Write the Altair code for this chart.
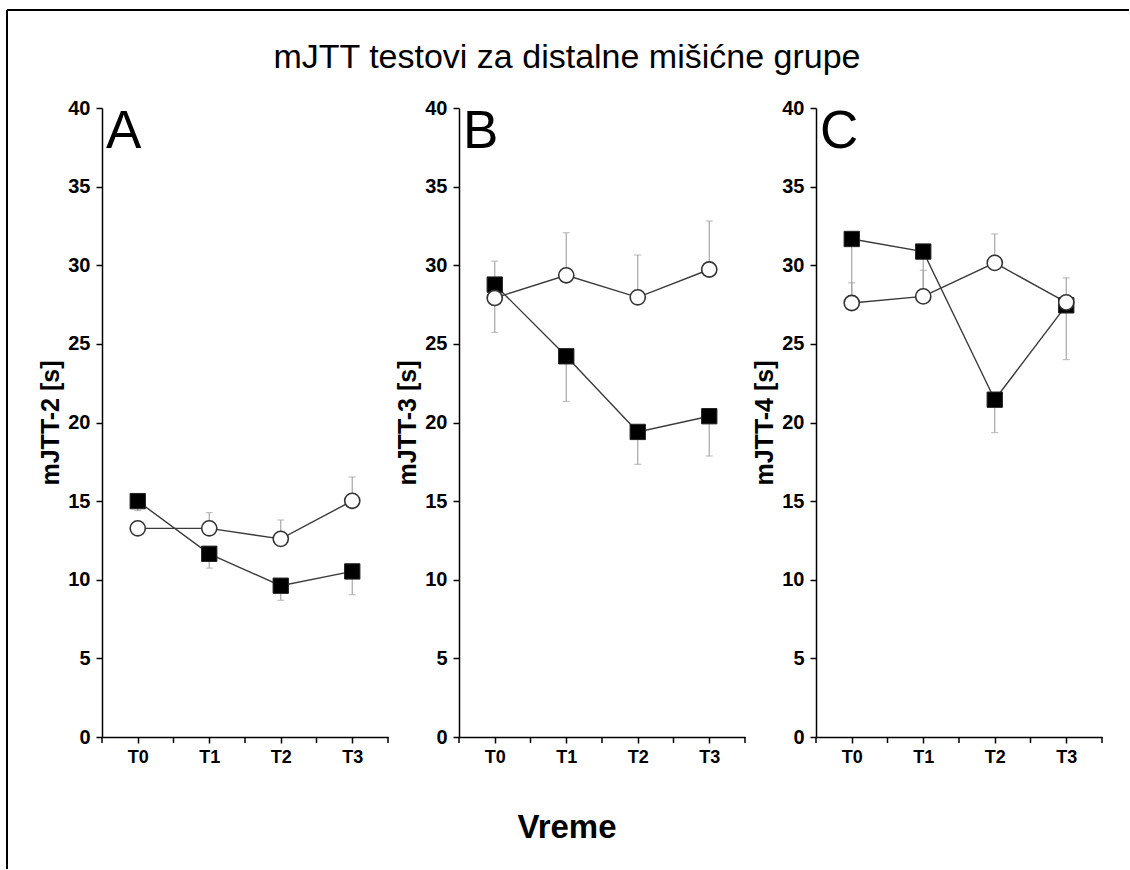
import altair as alt
import pandas as pd

# ---------------- data ----------------
times = ["T0", "T1", "T2", "T3"]
t_pos = [1, 2, 3, 4]
minor_pos = [0.5, 1.5, 2.5, 3.5, 4.5]
panels = ["A", "B", "C"]
y_titles = ["mJTT-2 [s]", "mJTT-3 [s]", "mJTT-4 [s]"]
main_title = "mJTT testovi za distalne mišićne grupe"
x_title = "Vreme"

# filled squares (value, end of the visible error bar)
sq_A = [15.0, 11.65, 9.62, 10.53]
sq_A_err = [14.4, 10.74, 8.69, 9.05]
sq_B = [28.77, 24.21, 19.4, 20.4]
sq_B_err = [30.26, 21.34, 17.34, 17.87]
sq_C = [31.67, 30.87, 21.45, 27.45]
sq_C_err = [27.7, 27.7, 19.36, 24.0]

# open circles (value, end of the visible error bar)
ci_A = [13.27, 13.27, 12.6, 15.02]
ci_A_err = [13.27, 14.27, 13.8, 16.54]
ci_B = [27.92, 29.36, 27.96, 29.73]
ci_B_err = [25.73, 32.07, 30.65, 32.81]
ci_C = [27.6, 28.02, 30.15, 27.64]
ci_C_err = [28.88, 29.68, 31.99, 29.2]

y_ticks = [0, 5, 10, 15, 20, 25, 30, 35, 40]

squares = {"A": (sq_A, sq_A_err), "B": (sq_B, sq_B_err), "C": (sq_C, sq_C_err)}
circles = {"A": (ci_A, ci_A_err), "B": (ci_B, ci_B_err), "C": (ci_C, ci_C_err)}

rows = []
for p in panels:
    for series, src in (("sq", squares), ("ci", circles)):
        vals, errs = src[p]
        for t, lab, v, e in zip(t_pos, times, vals, errs):
            rows.append({"panel": p, "series": series, "t": t, "time": lab,
                         "value": v, "cap": e})
df = pd.DataFrame(rows)
minor_df = pd.DataFrame({"t": minor_pos})

FONT = "Liberation Sans"

label_expr = ""
for t, lab in zip(t_pos, times):
    label_expr += f"datum.value == {t} ? '{lab}' : "
label_expr += "''"

W, H = 286, 629


def make_panel(i):
    p = panels[i]
    d = df[df.panel == p]
    base = alt.Chart(d)
    xs = alt.X("t:Q",
               scale=alt.Scale(domain=[0.5, 4.5], nice=False, zero=False),
               axis=alt.Axis(values=t_pos, labelExpr=label_expr, title=None))
    ys = alt.Y("value:Q",
               scale=alt.Scale(domain=[0, 40], nice=False, zero=True),
               axis=alt.Axis(values=y_ticks, title=y_titles[i]))
    has_err = "datum.cap != datum.value"
    err = base.transform_filter(has_err).mark_rule(
        color="#a6a6a6", strokeWidth=1.2).encode(x=xs, y=ys, y2="cap:Q")
    caps = base.transform_filter(has_err).mark_tick(
        orient="horizontal", size=7, thickness=1.2, color="#a6a6a6"
    ).encode(x="t:Q", y="cap:Q")
    lines = base.mark_line(color="#3a3a3a", strokeWidth=1.4).encode(
        x="t:Q", y="value:Q", detail="series:N")
    sq = base.transform_filter("datum.series == 'sq'").mark_point(
        shape="square", size=235, filled=True, fill="black",
        stroke="#222222", strokeWidth=1, opacity=1
    ).encode(x="t:Q", y="value:Q")
    ci = base.transform_filter("datum.series == 'ci'").mark_point(
        shape="circle", size=230, filled=True, fill="white",
        stroke="#333333", strokeWidth=1.6, opacity=1
    ).encode(x="t:Q", y="value:Q")
    minor = alt.Chart(minor_df).mark_rule(color="black", strokeWidth=1.5).encode(
        x="t:Q", y=alt.value(H), y2=alt.value(H + 6))
    letter = alt.Chart(pd.DataFrame({"lab": [p]})).mark_text(
        font=FONT, fontSize=53, align="left", baseline="alphabetic",
        color="black"
    ).encode(text="lab:N", x=alt.value(4), y=alt.value(40))
    layers = [err, caps, lines, sq, ci, minor, letter]
    if i == 0:
        frame = alt.Chart(pd.DataFrame({"k": [0]}))
        left = frame.mark_rule(color="black", strokeWidth=2).encode(
            x=alt.value(-95), y=alt.value(-98), y2=alt.value(761))
        top = frame.mark_rule(color="black", strokeWidth=2).encode(
            x=alt.value(-95), x2=alt.value(1027), y=alt.value(-98))
        layers += [left, top]
    if i == 1:
        t1 = alt.Chart(pd.DataFrame({"lab": [main_title]})).mark_text(
            font=FONT, fontSize=34, align="center", baseline="middle",
            color="black"
        ).encode(text="lab:N", x=alt.value(108), y=alt.value(-50))
        t2 = alt.Chart(pd.DataFrame({"lab": [x_title]})).mark_text(
            font=FONT, fontSize=33, fontWeight="bold", align="center",
            baseline="middle", color="black"
        ).encode(text="lab:N", x=alt.value(108), y=alt.value(720))
        layers += [t1, t2]
    return alt.layer(*layers).properties(width=W, height=H)


chart = alt.hconcat(*[make_panel(i) for i in range(3)], spacing=71,
                    bounds="flush").properties(
    padding={"left": 6, "top": 9, "right": 0, "bottom": 0},
    background="white",
).configure_view(stroke=None).configure_axis(
    grid=False, domainColor="black", domainWidth=1.5,
    tickColor="black", tickWidth=1.5, tickSize=6,
    labelColor="black", titleColor="black",
    labelFont=FONT, labelFontWeight="bold",
    titleFont=FONT, titleFontWeight="bold",
).configure_axisX(
    labelFontSize=18, labelPadding=5
).configure_axisY(
    labelFontSize=20, labelPadding=6, titleFontSize=25, titlePadding=4
)

chart.save("out.html", embed_options={"renderer": "svg", "actions": False})
